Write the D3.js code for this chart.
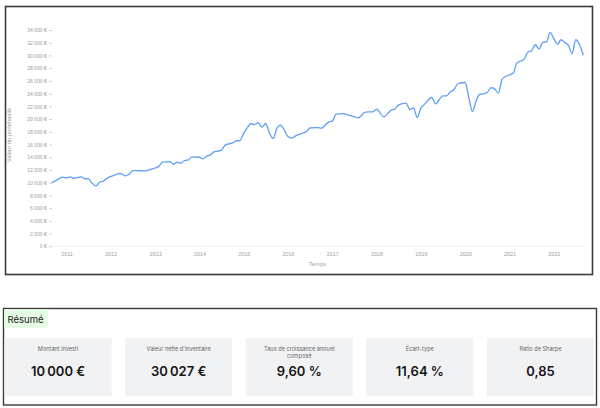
<!DOCTYPE html>
<html><head><meta charset="utf-8">
<script src="https://cdn.jsdelivr.net/npm/d3@7"></script>
<style>
html,body{margin:0;padding:0;background:#fff;}
svg{display:block;}
</style></head>
<body><svg id="c" width="600" height="408"></svg>
<script>
const dates = [
"2010-09","2010-10","2010-12",
"2011-01","2011-02","2011-03","2011-05","2011-06","2011-07","2011-08","2011-09","2011-10","2011-11","2011-12",
"2012-02","2012-03","2012-04","2012-05","2012-06","2012-07","2012-08","2012-10","2012-12",
"2013-02","2013-03","2013-05","2013-06","2013-07","2013-08","2013-09","2013-10","2013-11",
"2014-01","2014-02","2014-03","2014-04","2014-05","2014-06","2014-07","2014-08","2014-10","2014-11","2014-12",
"2015-01","2015-02","2015-03","2015-04","2015-05","2015-06","2015-07","2015-08","2015-09","2015-10","2015-11","2015-12",
"2016-01","2016-02","2016-03","2016-05","2016-06","2016-07","2016-09","2016-10","2016-12",
"2017-01","2017-02","2017-04","2017-05","2017-07","2017-08","2017-10","2017-12",
"2018-01","2018-03","2018-05","2018-06","2018-07","2018-09","2018-10","2018-11","2018-12",
"2019-01","2019-02","2019-04","2019-05","2019-07","2019-08","2019-09","2019-10","2019-11",
"2020-01","2020-02","2020-03","2020-04","2020-05","2020-06","2020-07","2020-08","2020-09","2020-10","2020-11","2020-12",
"2021-02","2021-03","2021-04","2021-05","2021-06","2021-07","2021-08","2021-09","2021-10","2021-11","2021-12",
"2022-01","2022-02","2022-03","2022-04","2022-05","2022-06","2022-07","2022-08","2022-09"];
const values = [
10000,10280,10860,
10750,10900,10700,10900,10640,10590,9900,9490,10070,10230,10700,
11175,11430,11380,11065,11330,11900,11900,11850,12120,
12590,13220,13320,12900,13220,13060,13470,13580,14060,
14000,13740,14170,14370,14840,14950,15110,15900,16260,16570,16620,
17790,18670,19300,19140,19450,18730,19300,17790,16940,18510,19050,18300,
17250,17000,17310,17790,18040,18620,18670,18570,19520,
19670,20780,20870,20710,20350,20190,21090,21140,
21560,20350,21400,21560,22240,22510,21500,21770,20240,
21720,22350,23390,22400,23660,23660,24300,24600,25550,
25750,23290,21190,22900,23900,23970,24180,24920,24710,24080,26290,26700,
27230,28800,29120,29430,30540,30740,31680,31010,32050,32110,33620,
32630,31790,32470,32050,31570,30270,32470,31680,30027];
const yTicks = [0,2000,4000,6000,8000,10000,12000,14000,16000,18000,20000,22000,24000,26000,28000,30000,32000,34000];
const xTickYears = ["2011","2012","2013","2014","2015","2016","2017","2018","2019","2020","2021","2022"];
const cardLabels = [["Montant investi"],["Valeur nette d'inventaire"],["Taux de croissance annuel","composé"],["Écart-type"],["Ratio de Sharpe"]];
const cardValues = ["10\u202F000 €","30\u202F027 €","9,60 %","11,64 %","0,85"];

const svg = d3.select("#c");
const parse = d3.timeParse("%Y-%m");
const n = Math.min(dates.length, values.length);
const data = d3.range(n).map(i => ({d: parse(dates[i]), v: values[i]}));

// chart frame
svg.append("rect").attr("x",5.5).attr("y",6.5).attr("width",587).attr("height",268)
  .attr("fill","#fff").attr("stroke","#3a3a3a").attr("stroke-width",1.6);

const x = d3.scaleTime().domain([parse("2010-09"), parse("2022-09")]).range([51.7,583.3]);
const y = d3.scaleLinear().domain([0,34000]).range([246.3,30]);
const fmt = v => d3.format(",")(v).replace(/,/g,"\u202F") + " €";

// y axis
const ya = svg.append("g").attr("transform","translate(52,0)")
  .call(d3.axisLeft(y).tickValues(yTicks).tickSize(3).tickPadding(2).tickFormat(fmt));
ya.select(".domain").remove();
ya.selectAll("line").attr("stroke","#cfcfcf");
ya.selectAll("text").attr("fill","#a0a0a0").attr("font-size",5.2).attr("font-family","Liberation Sans, Arial, sans-serif");

// baseline
svg.append("line").attr("x1",52).attr("x2",583.3).attr("y1",y(0)).attr("y2",y(0))
  .attr("stroke","#ececec").attr("stroke-width",0.8);

// x axis
const xa = svg.append("g").attr("transform",`translate(0,${y(0)})`)
  .call(d3.axisBottom(x).tickValues(xTickYears.map(s=>d3.timeParse("%Y")(s))).tickSize(0).tickPadding(6).tickFormat(d3.timeFormat("%Y")));
xa.select(".domain").remove();
xa.selectAll("text").attr("fill","#a0a0a0").attr("font-size",5.4).attr("font-family","Liberation Sans, Arial, sans-serif");

svg.append("text").attr("x",317.5).attr("y",266).attr("text-anchor","middle")
  .attr("fill","#a0a0a0").attr("font-size",5.8).attr("font-family","Liberation Sans, Arial, sans-serif").text("Temps");
svg.append("text").attr("transform","translate(11,135) rotate(-90)").attr("text-anchor","middle")
  .attr("fill","#a0a0a0").attr("font-size",5.8).attr("font-family","Liberation Sans, Arial, sans-serif").text("Valeur du portefeuille");

// line
svg.append("path").datum(data)
  .attr("fill","none").attr("stroke","#5e9ef7").attr("stroke-width",1.3).attr("stroke-linejoin","round")
  .attr("d", d3.line().x(d=>x(d.d)).y(d=>y(d.v)).curve(d3.curveMonotoneX));

// summary box
svg.append("rect").attr("x",3.5).attr("y",308.5).attr("width",593).attr("height",96.5)
  .attr("fill","#fff").attr("stroke","#3a3a3a").attr("stroke-width",1.4);
svg.append("rect").attr("x",4.2).attr("y",309.2).attr("width",44).attr("height",19).attr("fill","#e6fbe3");
svg.append("text").attr("x",7.5).attr("y",322.5).attr("fill","#222").attr("font-size",9.5)
  .attr("font-family","Inter, Noto Sans, sans-serif").text("Résumé");

const cx = d3.scaleBand().domain(d3.range(cardLabels.length)).range([4.5,594]).paddingInner(0.112).paddingOuter(0);
const cards = svg.selectAll("g.card").data(cardLabels).join("g").attr("class","card")
  .attr("transform",(d,i)=>`translate(${cx(i)},338)`);
cards.append("rect").attr("width",cx.bandwidth()).attr("height",58).attr("fill","#f1f2f4");
cards.each(function(lbl,i){
  const g = d3.select(this);
  lbl.forEach((t,j)=>g.append("text").attr("x",cx.bandwidth()/2).attr("y",12.5+j*7)
    .attr("text-anchor","middle").attr("fill","#666").attr("font-size",5.6)
    .attr("font-family","Inter, Noto Sans, sans-serif").text(t));
  g.append("text").attr("x",cx.bandwidth()/2).attr("y",37.5).attr("text-anchor","middle")
    .attr("fill","#151515").attr("font-size",13).attr("font-weight",600)
    .attr("font-family","Inter, Noto Sans, sans-serif").text(cardValues[i]);
});
</script>
</body></html>
